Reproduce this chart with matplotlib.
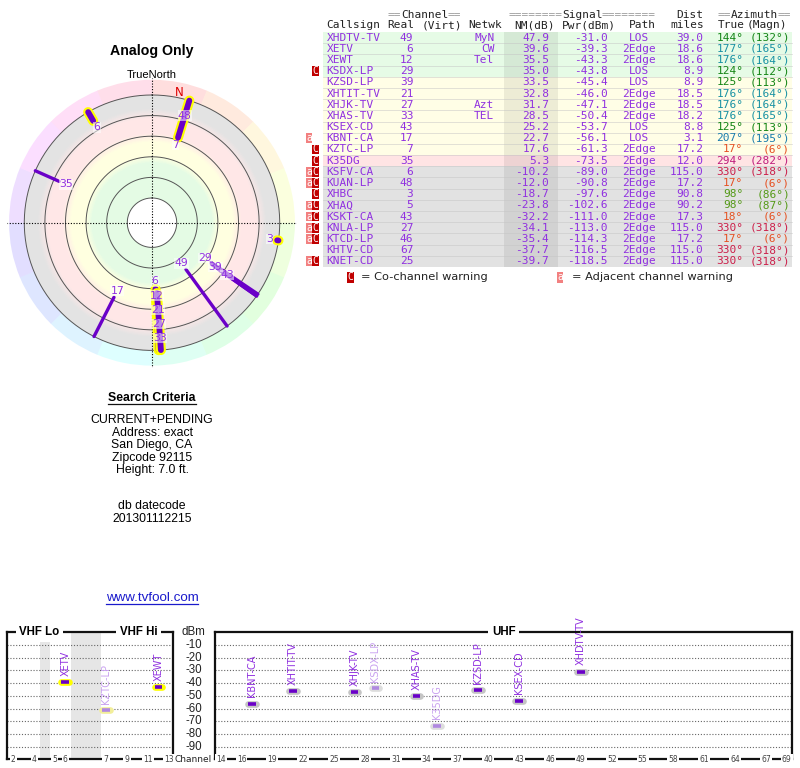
import colorsys
import numpy as np
import matplotlib
matplotlib.use("Agg")
import matplotlib.pyplot as plt
import matplotlib.patheffects as pe
import matplotlib.transforms as mtransforms
from matplotlib.patches import Rectangle
from matplotlib.colors import LinearSegmentedColormap

# ---------------- data ----------------
callsigns = ['XHDTV-TV', 'XETV', 'XEWT', 'KSDX-LP', 'KZSD-LP', 'XHTIT-TV', 'XHJK-TV',
             'XHAS-TV', 'KSEX-CD', 'KBNT-CA', 'KZTC-LP', 'K35DG', 'KSFV-CA', 'KUAN-LP',
             'XHBC', 'XHAQ', 'KSKT-CA', 'KNLA-LP', 'KTCD-LP', 'KHTV-CD', 'KNET-CD']
channels = [49, 6, 12, 29, 39, 21, 27, 33, 43, 17, 7, 35, 6, 48, 3, 5, 43, 27, 46, 67, 25]
networks = ['MyN', 'CW', 'Tel', '', '', '', 'Azt', 'TEL', '', '', '', '', '', '', '', '',
            '', '', '', '', '']
nm_db = [47.9, 39.6, 35.5, 35.0, 33.5, 32.8, 31.7, 28.5, 25.2, 22.7, 17.6, 5.3, -10.2,
         -12.0, -18.7, -23.8, -32.2, -34.1, -35.4, -37.7, -39.7]
pwr_dbm = [-31.0, -39.3, -43.3, -43.8, -45.4, -46.0, -47.1, -50.4, -53.7, -56.1, -61.3,
           -73.5, -89.0, -90.8, -97.6, -102.6, -111.0, -113.0, -114.3, -116.5, -118.5]
paths = ['LOS', '2Edge', '2Edge', 'LOS', 'LOS', '2Edge', '2Edge', '2Edge', 'LOS', 'LOS',
         '2Edge', '2Edge', '2Edge', '2Edge', '2Edge', '2Edge', '2Edge', '2Edge', '2Edge',
         '2Edge', '2Edge']
dist_mi = [39.0, 18.6, 18.6, 8.9, 8.9, 18.5, 18.5, 18.2, 8.8, 3.1, 17.2, 12.0, 115.0,
           17.2, 90.8, 90.2, 17.3, 115.0, 17.2, 115.0, 115.0]
az_true = [144, 177, 176, 124, 125, 176, 176, 176, 125, 207, 17, 294, 330, 17, 98, 98,
           18, 330, 17, 330, 330]
az_magn = [132, 165, 164, 112, 113, 164, 164, 165, 113, 195, 6, 282, 318, 6, 86, 87,
           6, 318, 6, 318, 318]
warnings = ['', '', '', 'C', '', '', '', '', '', 'a', 'C', 'C', 'aC', 'aC', 'C', 'aC',
            'aC', 'aC', 'aC', '', 'aC']

ring_nm = [80, 60, 40, 20, 0, -20]
vhf_ticks = [2, 4, 5, 6, 7, 9, 11, 13]
uhf_ticks = [14, 16, 19, 22, 25, 28, 31, 34, 37, 40, 43, 46, 49, 52, 55, 58, 61, 64, 67, 69]
dbm_ticks = [-10, -20, -30, -40, -50, -60, -70, -80, -90]

criteria_lines = ['CURRENT+PENDING', 'Address: exact', 'San Diego, CA', 'Zipcode 92115',
                  'Height: 7.0 ft.']
datecode_lines = ['db datecode', '201301112215']

# ---------------- style ----------------
W, H = 800, 768
SANS = ['Liberation Sans', 'DejaVu Sans']
VERD = ['DejaVu Sans']
MONO = ['DejaVu Sans Mono']
PURPLE = '#9030e0'
PURPLE_FADED = '#c9a2f0'
LINE_PURPLE = '#6a00c8'
BAR_FADED = '#b088e0'

fig = plt.figure(figsize=(8, 7.68), dpi=100)
fig.patch.set_facecolor('white')


def px_rect(x0, y0, x1, y1):
    return [x0 / W, 1 - y1 / H, (x1 - x0) / W, (y1 - y0) / H]


ov = fig.add_axes([0, 0, 1, 1])
ov.set_xlim(0, W)
ov.set_ylim(H, 0)
ov.axis('off')

# ---------------- polar radar ----------------
CX, CY, RPX = 152, 222.7, 145
PX_PER_DB = 1.03
R0 = 104
RMAX = RPX / PX_PER_DB

axp = fig.add_axes(px_rect(CX - RPX, CY - RPX, CX + RPX, CY + RPX), projection='polar')
axp.set_theta_zero_location('N')
axp.set_theta_direction(-1)
axp.axis('off')

nm_stops = [-20, -7, 3, 17, 26, 39, 46, 80]
band_cols = ['#e3e3e3', '#e3e3e3', '#ffe7e7', '#ffe7e7', '#ffffe0', '#ffffe0',
             '#e4fbe4', '#e4fbe4']
cmap = LinearSegmentedColormap.from_list(
    'bands', list(zip([(v + 20) / 100 for v in nm_stops], band_cols)))
th_e = np.linspace(0, 2 * np.pi, 361)
r_e = np.linspace(R0 - 80, R0 + 20, 201)
r_c = 0.5 * (r_e[1:] + r_e[:-1])
Cv = np.repeat((R0 - r_c)[:, None], 360, axis=1)
axp.pcolormesh(th_e, r_e, Cv, cmap=cmap, vmin=-20, vmax=80, shading='flat',
               antialiased=False, zorder=0)

# hue ring
nseg = 16
seg_w = 2 * np.pi / nseg
ring_h = RMAX - 2.0 - (R0 + 20)
for i in range(nseg):
    col = colorsys.hsv_to_rgb(i / nseg, 0.13, 1.0)
    axp.bar(i * seg_w, ring_h, width=seg_w * 1.01, bottom=R0 + 20, align='edge',
            color=col, edgecolor='none', linewidth=0, zorder=0)

tt = np.linspace(0, 2 * np.pi, 400)
for v in ring_nm:
    axp.plot(tt, np.full_like(tt, R0 - v), color='#555555', lw=0.7, zorder=1)

for th in [0, np.pi / 2, np.pi, 1.5 * np.pi]:
    axp.plot([th, th], [0, RMAX], color='black', lw=0.8, ls=(0, (1, 1.5)), zorder=1)

visible = [i for i in range(len(callsigns)) if nm_db[i] > -20]
order = sorted(visible, key=lambda i: (channels[i] <= 13, -nm_db[i]))
for i in order:
    th = np.deg2rad(az_true[i])
    rr = [R0 - nm_db[i], R0 + 20]
    if channels[i] <= 13:
        axp.plot([th, th], rr, color=LINE_PURPLE, lw=4.2, solid_capstyle='round',
                 path_effects=[pe.Stroke(linewidth=7.2, foreground='#ffff00'), pe.Normal()],
                 zorder=3)
    else:
        axp.plot([th, th], rr, color=LINE_PURPLE, lw=2.4, solid_capstyle='round', zorder=2)

placed = []
for i in sorted(visible, key=lambda i: R0 - nm_db[i]):
    th = np.deg2rad(az_true[i])
    r = (R0 - nm_db[i]) * PX_PER_DB - 7.5

    def pos(rv):
        return np.array([rv * np.sin(th), rv * np.cos(th)])

    while any(np.hypot(*(pos(r) - p)) < 14 for p in placed):
        r += 0.5
    placed.append(pos(r))
    axp.text(th, r / PX_PER_DB, str(channels[i]), color=PURPLE, fontsize=7.8,
             family=VERD, ha='center', va='center', zorder=5,
             bbox=dict(boxstyle='square,pad=0.02', fc='white', ec='none', alpha=0.55))

decl = az_true[0] - az_magn[0]
axp.text(np.deg2rad(decl), 133 / PX_PER_DB, 'N', color='#dd0000', fontsize=8.5,
         family=VERD, ha='center', va='center', zorder=5)
axp.set_ylim(0, RMAX)

ov.text(CX, 51.5, 'Analog Only', fontsize=10.2, fontweight='bold', family=SANS,
        ha='center', va='center')
ov.text(CX, 74.5, 'TrueNorth', fontsize=8, family=SANS, ha='center', va='center')

# ---------------- search criteria ----------------
t_sc = ov.text(CX, 397.7, 'Search Criteria', fontsize=8.8, fontweight='bold', family=SANS,
               ha='center', va='center')
for k, s in enumerate(criteria_lines):
    ov.text(CX, 420 + k * 12.5, s, fontsize=8.8, family=SANS, ha='center', va='center')
for k, s in enumerate(datecode_lines):
    ov.text(CX, 506 + k * 12.5, s, fontsize=8.8, family=SANS, ha='center', va='center')
t_url = ov.text(CX, 598, 'www.tvfool.com', fontsize=9.6, family=SANS, color='#1a1acc',
                ha='center', va='center')

# ---------------- table ----------------
ROW0 = 37.7
PITCH = 11.18
FS_MONO = 8
CW = 0.602 * FS_MONO * 100 / 72
TAB_X0, TAB_X1 = 323.3, 792
NM_X0, NM_X1 = 504.3, 558.3
HDR_GRAY = '#9a9a9a'


def row_color(v):
    if v >= 35:
        return '#e6fbe6'
    if v >= 10:
        return '#fffee6'
    if v >= 0:
        return '#ffe4e4'
    return '#e2e2e2'


nrows = len(callsigns)
top0 = ROW0 - PITCH / 2
for i in range(nrows):
    top = top0 + i * PITCH
    ov.add_patch(Rectangle((TAB_X0, top), TAB_X1 - TAB_X0, PITCH, fc=row_color(nm_db[i]),
                           ec='none', zorder=1))
ov.add_patch(Rectangle((NM_X0, top0), NM_X1 - NM_X0, nrows * PITCH, fc='black', alpha=0.07,
                       ec='none', zorder=1.5))
for i in range(1, nrows):
    y = top0 + i * PITCH
    ov.plot([TAB_X0, TAB_X1], [y, y], color='#c4c4c4', lw=0.5, alpha=0.7, zorder=1.6)

for i in range(nrows):
    yc = ROW0 + i * PITCH
    top = top0 + i * PITCH
    if 'C' in warnings[i]:
        ov.add_patch(Rectangle((312.3, top + 0.7), 6.4, PITCH - 1.4, fc='#c00000', ec='none',
                               zorder=2))
        ov.text(315.5, yc, 'C', color='white', fontsize=7, family=MONO, ha='center',
                va='center', zorder=3)
    if 'a' in warnings[i]:
        ov.add_patch(Rectangle((305.9, top + 0.7), 6.4, PITCH - 1.4, fc='#f28080', ec='none',
                               zorder=2))
        ov.text(309.1, yc, 'a', color='white', fontsize=7, family=MONO, ha='center',
                va='center', zorder=3)

    kw = dict(fontsize=FS_MONO, family=MONO, va='center', zorder=3)
    ov.text(326.7, yc, callsigns[i], color=PURPLE, ha='left', **kw)
    ov.text(413.3, yc, str(channels[i]), color=PURPLE, ha='right', **kw)
    ov.text(494.3, yc, networks[i], color=PURPLE, ha='right', **kw)
    ov.text(549.3, yc, '%.1f' % nm_db[i], color=PURPLE, ha='right', **kw)
    ov.text(607.7, yc, '%.1f' % pwr_dbm[i], color=PURPLE, ha='right', **kw)
    ov.text(639.2, yc, paths[i], color=PURPLE, ha='center', **kw)
    ov.text(703.3, yc, '%.1f' % dist_mi[i], color=PURPLE, ha='right', **kw)

    a = az_true[i]
    hue = np.interp(a, [0, 17, 98, 124, 144, 176, 207, 294, 330, 360],
                    [0, 14, 92, 120, 122, 188, 200, 325, 345, 360]) / 360
    val = np.interp(a, [0, 17, 98, 124, 144, 176, 207, 294, 330, 360],
                    [0.88, 0.9, 0.6, 0.52, 0.52, 0.64, 0.68, 0.75, 0.8, 0.88])
    acol = colorsys.hsv_to_rgb(hue, 0.85, val)
    ov.text(743.3, yc, '%d°' % az_true[i], color=acol, ha='right', **kw)
    ov.text(790, yc, '(%d°)' % az_magn[i], color=acol, ha='right', **kw)


def mono_parts(x, y, parts):
    for t, c in parts:
        ov.text(x, y, t, color=c, fontsize=FS_MONO, family=MONO, ha='left', va='center')
        x += len(t) * CW


H1, H2 = 15, 25.5
mono_parts(387.7, H1, [('==', HDR_GRAY), ('Channel', '#222222'), ('==', HDR_GRAY)])
mono_parts(508.3, H1, [('========', HDR_GRAY), ('Signal', '#222222'), ('========', HDR_GRAY)])
mono_parts(676.7, H1, [('Dist', '#222222')])
mono_parts(717.3, H1, [('==', HDR_GRAY), ('Azimuth', '#222222'), ('==', HDR_GRAY)])
for x, s in [(326.7, 'Callsign'), (387.7, 'Real'), (421.7, '(Virt)'), (468.3, 'Netwk'),
             (514, 'NM(dB)'), (562.3, 'Pwr(dBm)'), (629.3, 'Path'), (670.7, 'miles'),
             (717.3, 'True'), (746.7, '(Magn)')]:
    mono_parts(x, H2, [(s, '#222222')])

LEG_Y = 277.3
ov.add_patch(Rectangle((347.3, LEG_Y - 5.5), 6.4, 11, fc='#c00000', ec='none'))
ov.text(350.5, LEG_Y, 'C', color='white', fontsize=7, family=MONO, ha='center', va='center')
ov.text(360.7, LEG_Y, '= Co-channel warning', fontsize=8.2, family=VERD, ha='left',
        va='center', color='#222222')
ov.add_patch(Rectangle((557, LEG_Y - 5.5), 6.4, 11, fc='#f28080', ec='none'))
ov.text(560.2, LEG_Y, 'a', color='white', fontsize=7, family=MONO, ha='center', va='center')
ov.text(571.7, LEG_Y, '= Adjacent channel warning', fontsize=8.2, family=VERD, ha='left',
        va='center', color='#222222')

# ---------------- spectrum ----------------
SP_Y0, SP_Y1 = 632.3, 759.4
axv = fig.add_axes(px_rect(7.3, SP_Y0, 173.3, SP_Y1))
axu = fig.add_axes(px_rect(215, SP_Y0, 792.3, SP_Y1))

GAP1, GAP2 = 0.95, 2.88


def vhf_x(ch):
    return ch + (GAP1 if ch >= 5 else 0) + (GAP2 if ch >= 7 else 0)


axv.set_xlim(1.43, 17.24)
axu.set_xlim(13.42, 69.56)
axv.axvspan(4.5, 4.5 + GAP1, color='#e6e6e6', lw=0, zorder=0)
axv.axvspan(6.5 + GAP1, 6.5 + GAP1 + GAP2, color='#e6e6e6', lw=0, zorder=0)

for ax in (axv, axu):
    ax.set_ylim(-100, 0)
    ax.set_xticks([])
    ax.set_yticks([])
    for sp in ax.spines.values():
        sp.set_linewidth(1.6)
        sp.set_color('#111111')
    for v in dbm_ticks:
        ax.axhline(v, color='#666666', lw=0.8, ls=(0, (1, 1.6)), zorder=1)

for i in range(nrows):
    if nm_db[i] < 0:
        continue
    ch = channels[i]
    is_vhf = ch <= 13
    ax = axv if is_vhf else axu
    x = vhf_x(ch) if is_vhf else ch
    faded = 'C' in warnings[i]
    if is_vhf:
        halo = '#f2ee9a' if faded else '#ffff00'
    else:
        halo = '#dddddd' if faded else '#c4c4c4'
    ax.plot([x - 0.36, x + 0.36], [pwr_dbm[i], pwr_dbm[i]],
            color=BAR_FADED if faded else LINE_PURPLE, lw=2.6, solid_capstyle='butt',
            path_effects=[pe.Stroke(linewidth=4.8, foreground=halo, capstyle='round'),
                          pe.Normal()], zorder=4)
    ax.annotate(callsigns[i], (x, pwr_dbm[i]), xytext=(0, 4.5), textcoords='offset points',
                rotation=90, ha='center', va='bottom', fontsize=7, family=VERD,
                color=PURPLE_FADED if faded else PURPLE, zorder=5)

tick_kw = dict(fontsize=5.5, family=VERD, color='#444444', ha='center', va='center',
               bbox=dict(boxstyle='square,pad=0.15', fc='white', ec='none'), zorder=6)
for ch in vhf_ticks:
    axv.text(vhf_x(ch), -100, str(ch), **tick_kw)
for ch in uhf_ticks:
    axu.text(ch, -100, str(ch), **tick_kw)

title_kw = dict(fontsize=8.3, fontweight='bold', family=SANS, ha='center', va='center',
                bbox=dict(boxstyle='square,pad=0.3', fc='white', ec='none'), zorder=6)
axv.text(0.194, 1.0, 'VHF Lo', transform=axv.transAxes, **title_kw)
axv.text(0.79, 1.0, 'VHF Hi', transform=axv.transAxes, **title_kw)
axu.text(0.5, 1.0, 'UHF', transform=axu.transAxes, **title_kw)

btrans = mtransforms.blended_transform_factory(ov.transData, axv.transData)
for v in dbm_ticks:
    ov.text(202, v, str(v), transform=btrans, fontsize=8.3, family=SANS, ha='right',
            va='center', color='#222222')
ov.text(193.5, 0, 'dBm', transform=btrans, fontsize=8.3, family=SANS, ha='center',
        va='center', color='#222222')
ov.text(193.5, -100, 'Channel', transform=btrans, fontsize=6.5, family=VERD, ha='center',
        va='center', color='#222222')

# ---------------- underlines ----------------
fig.canvas.draw()
inv = ov.transData.inverted()
for t, col, dy in [(t_sc, '#111111', 6.5), (t_url, '#1a1acc', 5.5)]:
    bb = t.get_window_extent()
    (xa, _), (xb, _) = inv.transform([[bb.x0, bb.y0], [bb.x1, bb.y1]])
    yy = t.get_position()[1] + dy
    ov.plot([xa, xb], [yy, yy], color=col, lw=0.9)

fig.savefig('out.png', dpi=100, facecolor='white')
